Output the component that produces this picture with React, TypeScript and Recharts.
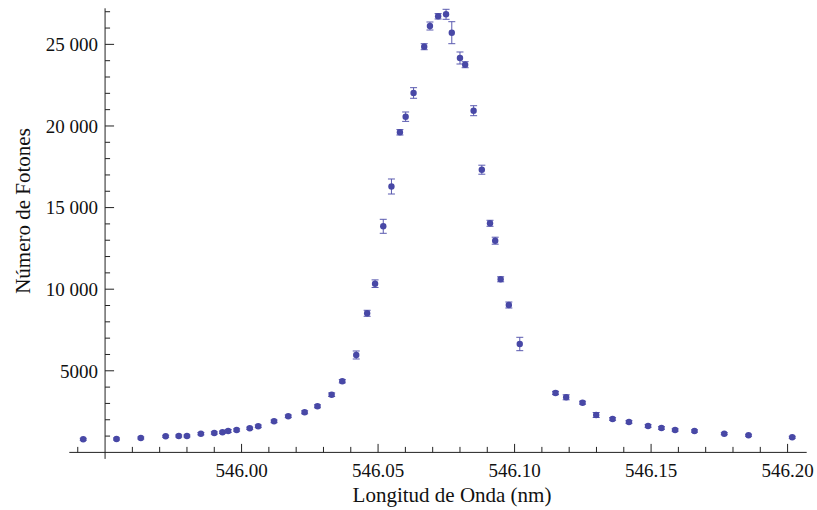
import React from 'react';
import { ScatterChart, Scatter, XAxis, YAxis, ErrorBar, ReferenceLine } from 'recharts';

const wavelength = [
  545.942, 545.9542, 545.9631, 545.9722, 545.977, 545.98, 545.9851, 545.99, 545.993, 545.9951,
  545.9982, 546.003, 546.0061, 546.0119, 546.0171, 546.0231, 546.0278, 546.033, 546.0369, 546.042,
  546.046, 546.0489, 546.0519, 546.0549, 546.058, 546.0601, 546.063, 546.0669, 546.069, 546.072,
  546.0749, 546.077, 546.08, 546.0819, 546.085, 546.088, 546.091, 546.0929, 546.0949, 546.0979,
  546.1019, 546.115, 546.1189, 546.1249, 546.1299, 546.1359, 546.1419, 546.1489, 546.1538, 546.1588,
  546.1659, 546.1768, 546.1857, 546.2017,
];
const photons = [
  803, 821, 882, 986, 1005, 1005, 1146, 1189, 1232, 1311,
  1372, 1477, 1599, 1905, 2212, 2457, 2825, 3535, 4360, 5968,
  8523, 10337, 13853, 16292, 19613, 20569, 22021, 24857, 26125, 26720,
  26842, 25715, 24165, 23754, 20936, 17321, 14037, 12971, 10606, 9031,
  6642, 3640, 3376, 3045, 2291, 2046, 1863, 1618, 1495, 1373,
  1311, 1146, 1048, 925,
];
const photonErr = [
  60, 60, 60, 60, 60, 60, 70, 70, 70, 90,
  70, 70, 80, 80, 80, 90, 90, 110, 100, 245,
  184, 233, 429, 460, 165, 288, 325, 184, 245, 165,
  306, 674, 368, 184, 306, 276, 184, 214, 153, 184,
  410, 100, 153, 90, 153, 80, 80, 80, 80, 70,
  70, 60, 60, 60,
];

const xTicks = [546.0, 546.05, 546.1, 546.15, 546.2];
const xMinorTicks = [
  545.94, 545.96, 545.97, 545.98, 545.99, 546.01, 546.02, 546.03, 546.04, 546.06, 546.07, 546.08,
  546.09, 546.11, 546.12, 546.13, 546.14, 546.16, 546.17, 546.18, 546.19,
];
const yTicks = [5000, 10000, 15000, 20000, 25000];
const yTickLabels = ['5000', '10 000', '15 000', '20 000', '25 000'];
const yMinorTicks = [
  1000, 2000, 3000, 4000, 6000, 7000, 8000, 9000, 11000, 12000, 13000, 14000, 16000, 17000, 18000,
  19000, 21000, 22000, 23000, 24000, 26000, 27000,
];

const xDomain: [number, number] = [545.9369, 546.207];
const yDomain: [number, number] = [0, 27210];
const axisCrossX = 545.95;

const W = 817;
const H = 510;
const margin = { top: 8.3, right: 10.3, bottom: 7.6, left: 0 };
const yAxisWidth = 69.3;
const xAxisHeight = 50;
const plotW = W - margin.left - margin.right - yAxisWidth;
const plotH = H - margin.top - margin.bottom - xAxisHeight;
const uX = (xDomain[1] - xDomain[0]) / plotW;
const uY = (yDomain[1] - yDomain[0]) / plotH;

const FONT = "'Liberation Serif', 'Times New Roman', serif";
const AXIS = '#222';
const MARK = '#4848a6';

const data = wavelength.map((x, i) => ({ x, y: photons[i], err: photonErr[i] }));

const Dot = (p: any) => <circle cx={p.cx} cy={p.cy} r={3.2} fill={MARK} />;

export default function App() {
  return (
    <div style={{ position: 'absolute', left: 0, top: 0, background: '#fff' }}>
      <ScatterChart width={W} height={H} margin={margin}>
        <XAxis
          type="number"
          dataKey="x"
          domain={xDomain}
          allowDataOverflow
          ticks={xTicks}
          tickFormatter={(v: number) => v.toFixed(2)}
          tickLine={false}
          tickSize={6}
          tickMargin={5}
          height={xAxisHeight}
          stroke={AXIS}
          tick={{ fill: '#111', fontSize: 19, fontFamily: FONT }}
          label={{
            content: () => (
              <text x={452} y={502} textAnchor="middle" fontSize={21} fontFamily={FONT} fill="#111">
                Longitud de Onda (nm)
              </text>
            ),
          }}
        />
        <YAxis
          type="number"
          dataKey="y"
          domain={yDomain}
          allowDataOverflow
          width={yAxisWidth}
          tick={false}
          tickLine={false}
          axisLine={false}
          label={{
            content: () => (
              <text
                x={29.5}
                y={211}
                transform="rotate(-90 29.5 211)"
                textAnchor="middle"
                fontSize={21}
                fontFamily={FONT}
                fill="#111"
              >
                Número de Fotones
              </text>
            ),
          }}
        />
        <ReferenceLine
          segment={[{ x: axisCrossX, y: -6.5 * uY }, { x: axisCrossX, y: yDomain[1] }]}
          stroke={AXIS}
          ifOverflow="visible"
        />
        {yTicks.map((v, i) => (
          <ReferenceLine
            key={'ym' + v}
            segment={[{ x: axisCrossX, y: v }, { x: axisCrossX + 9 * uX, y: v }]}
            stroke={AXIS}
            ifOverflow="visible"
            label={{ value: yTickLabels[i], position: 'left', offset: 7, fill: '#111', fontSize: 19, fontFamily: FONT }}
          />
        ))}
        {yMinorTicks.map((v) => (
          <ReferenceLine
            key={'yn' + v}
            segment={[{ x: axisCrossX, y: v }, { x: axisCrossX + 5 * uX, y: v }]}
            stroke={AXIS}
            ifOverflow="visible"
          />
        ))}
        {xTicks.map((v) => (
          <ReferenceLine
            key={'xm' + v}
            segment={[{ x: v, y: 0 }, { x: v, y: 8.5 * uY }]}
            stroke={AXIS}
            ifOverflow="visible"
          />
        ))}
        {xMinorTicks.map((v) => (
          <ReferenceLine
            key={'xn' + v}
            segment={[{ x: v, y: 0 }, { x: v, y: 5.5 * uY }]}
            stroke={AXIS}
            ifOverflow="visible"
          />
        ))}
        <Scatter data={data} dataKey="y" shape={Dot} isAnimationActive={false}>
          <ErrorBar dataKey="err" direction="y" width={3.5} stroke="#5a5ab0" strokeWidth={1} />
        </Scatter>
      </ScatterChart>
    </div>
  );
}
